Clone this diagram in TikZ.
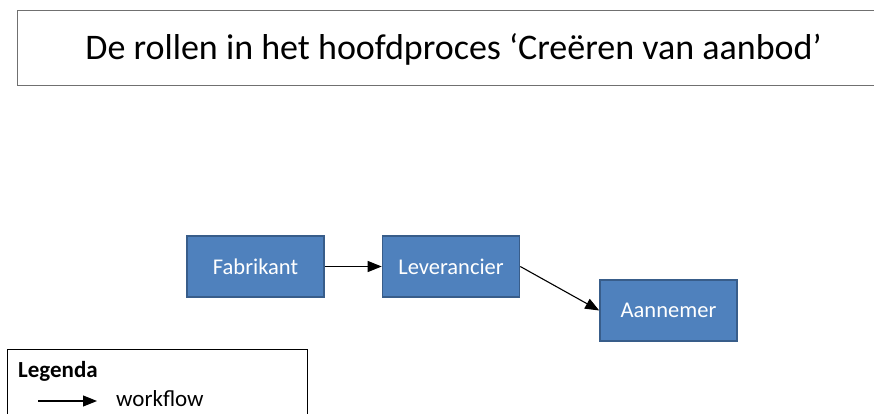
\documentclass[tikz,border=0pt]{standalone}
\usepackage{fontspec}
\setmainfont{Carlito}
\usetikzlibrary{arrows.meta}
\definecolor{rolefill}{HTML}{4F81BD}
\definecolor{roleedge}{HTML}{385D8A}
\definecolor{titleedge}{HTML}{707070}
\begin{document}
\begin{tikzpicture}[x=1pt,y=-1pt,
  rolebox/.style={draw=roleedge,line width=1.6pt,fill=rolefill,text=white,
    minimum width=137pt,minimum height=61pt,inner sep=0pt,
    font=\fontsize{22.5}{24}\selectfont},
  flow/.style={draw=black,line width=1.1pt,-{Triangle[length=14pt,width=11pt]}}]
\useasboundingbox (0,0) rectangle (874,414);
\fill[white] (0,0) rectangle (874,414);

% title frame, open on the right where it runs off the page
\draw[titleedge,line width=1pt] (874,11) -- (17,11) -- (17,86) -- (874,86);
\node[font=\fontsize{36}{40}\selectfont,anchor=base,inner sep=0pt] (title) at (453.5,60)
  {De rollen in het hoofdproces ‘Creëren van aanbod’};

% roles
\node[rolebox] (fab) at (255.5,266.5) {Fabrikant};
\node[rolebox] (lev) at (451,266.5) {Leverancier};
\node[rolebox] (aan) at (668.5,310.5) {Aannemer};

\draw[flow] (fab.east) -- (lev.west);
\draw[flow] (lev.east) -- (aan.west);

% legend
\draw[black,line width=0.8pt] (7,414) -- (7,349) -- (307,349) -- (307,414);
\node[font=\bfseries\fontsize{23}{25}\selectfont,anchor=base west,inner sep=0pt] (leg) at (18,377) {Legenda};
\coordinate (la) at (38,401);
\coordinate (lb) at (97,401);
\draw[flow] (la) -- (lb);
\node[font=\fontsize{23}{25}\selectfont,anchor=base west,inner sep=0pt] (wf) at (116,406) {workflow};
\end{tikzpicture}
\end{document}
